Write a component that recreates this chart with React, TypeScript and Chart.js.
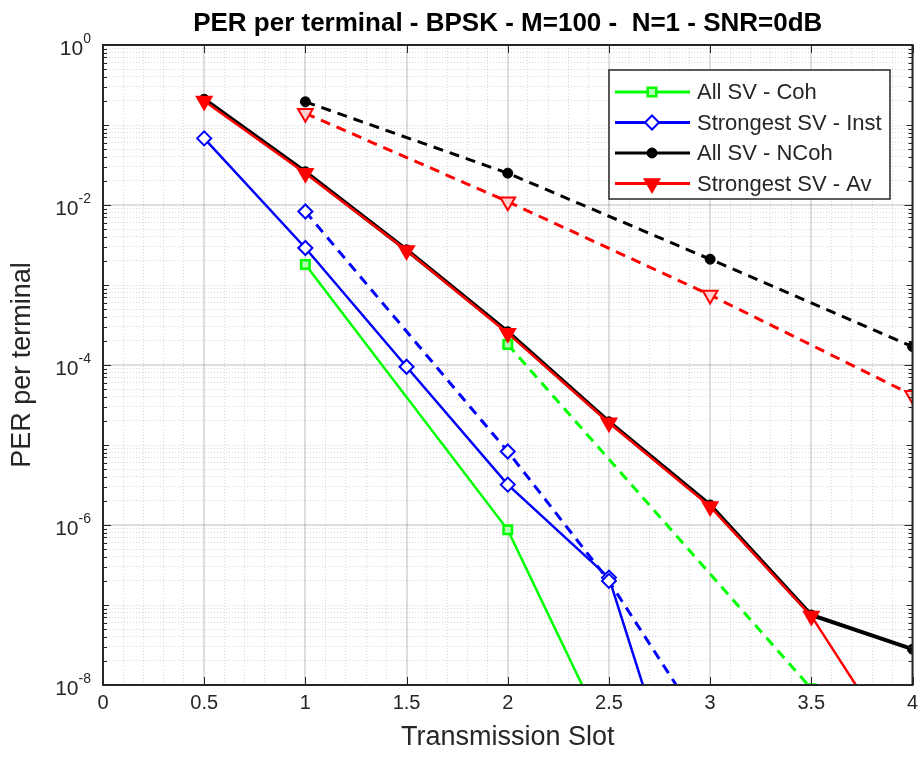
import React, { useEffect, useRef } from 'react';
import { Chart, registerables } from 'chart.js';
import { drawPoint } from 'chart.js/helpers';

Chart.register(...registerables);

// ---------- data ----------
const TITLE = 'PER per terminal - BPSK - M=100 -  N=1 - SNR=0dB';
const X_LABEL = 'Transmission Slot';
const Y_LABEL = 'PER per terminal';
const X_TICKS = [0, 0.5, 1, 1.5, 2, 2.5, 3, 3.5, 4];
const Y_TICK_EXPONENTS = [0, -2, -4, -6, -8];

const slots = [0.5, 1, 1.5, 2, 2.5, 3, 3.5, 4];

const cohX = [1, 2, 2.5];
const cohY = [1.8e-3, 8.7e-7, 2.0e-9];
const cohDashX = [2, 3.5];
const cohDashY = [1.8e-4, 9e-9];

const instX = [0.5, 1, 1.5, 2, 2.5, 3];
const instY = [0.068, 2.9e-3, 9.5e-5, 3.2e-6, 2.2e-7, 2.2e-11];
const instDashX = [1, 2, 2.5, 3];
const instDashY = [8.3e-3, 8.3e-6, 2.0e-7, 2.2e-9];

const ncohY = [0.21, 0.026, 2.75e-3, 2.6e-4, 1.95e-5, 1.78e-6, 7.5e-8, 2.8e-8];
const ncohDashX = [1, 2, 3, 4];
const ncohDashY = [0.195, 0.025, 2.1e-3, 1.7e-4];

const avY = [0.2, 0.025, 2.7e-3, 2.5e-4, 1.9e-5, 1.7e-6, 7.3e-8, 8e-10];
const avDashX = [1, 2, 3, 4];
const avDashY = [0.14, 0.011, 7.5e-4, 4.2e-5];

const SERIES_LABELS = ['All SV - Coh', 'Strongest SV - Inst', 'All SV - NCoh', 'Strongest SV - Av'];

const FONT = "'Liberation Sans', Arial, Helvetica, sans-serif";
const TEXT = '#262626';

const pts = (xs: number[], ys: number[]) => xs.map((x, i) => ({ x, y: ys[i] }));

const isXMajor = (v: number) => Math.abs(v * 2 - Math.round(v * 2)) < 1e-6;
const isYMajor = (v: number) => {
  const e = Math.log10(v);
  return Math.abs(e - Math.round(e)) < 1e-6 && Math.round(e) % 2 === 0;
};
const isDecade = (v: number) => {
  const e = Math.log10(v);
  return Math.abs(e - Math.round(e)) < 1e-6;
};

const frame = {
  id: 'matlabFrame',
  afterDatasetsDraw(chart: any) {
    const { ctx, chartArea: a, scales } = chart;
    ctx.save();
    ctx.strokeStyle = TEXT;
    ctx.lineWidth = 1;
    // x ticks (inward)
    X_TICKS.forEach((v) => {
      const px = Math.round(scales.x.getPixelForValue(v)) + 0.5;
      ctx.beginPath();
      ctx.moveTo(px, a.bottom);
      ctx.lineTo(px, a.bottom - 8);
      ctx.moveTo(px, a.top);
      ctx.lineTo(px, a.top + 8);
      ctx.stroke();
    });
    // y ticks (inward)
    scales.y.ticks.forEach((t: any) => {
      const py = Math.round(scales.y.getPixelForValue(t.value)) + 0.5;
      const len = isYMajor(t.value) ? 8 : isDecade(t.value) ? 6 : 4;
      ctx.beginPath();
      ctx.moveTo(a.left, py);
      ctx.lineTo(a.left + len, py);
      ctx.moveTo(a.right, py);
      ctx.lineTo(a.right - len, py);
      ctx.stroke();
    });
    ctx.lineWidth = 2;
    ctx.strokeRect(a.left, a.top, a.right - a.left, a.bottom - a.top);

    // x tick labels
    ctx.fillStyle = TEXT;
    ctx.font = `20px ${FONT}`;
    ctx.textAlign = 'center';
    ctx.textBaseline = 'top';
    X_TICKS.forEach((v) => {
      ctx.fillText(String(v), scales.x.getPixelForValue(v), a.bottom + 8);
    });

    // y tick labels 10^n
    ctx.textAlign = 'right';
    ctx.textBaseline = 'alphabetic';
    Y_TICK_EXPONENTS.forEach((e) => {
      const py = scales.y.getPixelForValue(Math.pow(10, e));
      const ex = String(e);
      ctx.font = `14px ${FONT}`;
      const ew = ctx.measureText(ex).width;
      const right = a.left - 12;
      ctx.fillText(ex, right, py - 2);
      ctx.font = `21px ${FONT}`;
      ctx.fillText('10', right - ew, py + 10);
    });
    ctx.restore();
  },
  afterDraw(chart: any) {
    const { ctx } = chart;
    const ds = chart.data.datasets.filter((d: any) => d.label);
    const bx = 609, by = 70, bw = 281, bh = 129;
    ctx.save();
    ctx.fillStyle = '#ffffff';
    ctx.fillRect(bx, by, bw, bh);
    ctx.strokeStyle = TEXT;
    ctx.lineWidth = 1.5;
    ctx.strokeRect(bx, by, bw, bh);
    ds.forEach((d: any, i: number) => {
      const y = by + 22 + i * 30.5;
      ctx.strokeStyle = d.borderColor;
      ctx.lineWidth = 3;
      ctx.setLineDash([]);
      ctx.beginPath();
      ctx.moveTo(bx + 6, y);
      ctx.lineTo(bx + 81, y);
      ctx.stroke();
      ctx.fillStyle = d.pointBackgroundColor;
      ctx.strokeStyle = d.pointBorderColor;
      ctx.lineWidth = d.pointBorderWidth;
      drawPoint(ctx, { pointStyle: d.pointStyle, rotation: d.pointRotation || 0, radius: d.pointRadius, borderWidth: d.pointBorderWidth }, bx + 43, y);
      ctx.fillStyle = TEXT;
      ctx.font = `22px ${FONT}`;
      ctx.textAlign = 'left';
      ctx.textBaseline = 'middle';
      ctx.fillText(d.label, bx + 88, y + 1);
    });
    ctx.restore();
  },
};

const App: React.FC = () => {
  const ref = useRef<HTMLCanvasElement>(null);

  useEffect(() => {
    document.body.style.margin = '0';
    const green = '#00ff00', blue = '#0000ff', black = '#000000', red = '#ff0000';
    const dash = [10, 7];
    const common = { fill: false, tension: 0, showLine: true };
    const chart = new Chart(ref.current as HTMLCanvasElement, {
      type: 'scatter',
      data: {
        datasets: [
          { ...common, label: SERIES_LABELS[0], data: pts(cohX, cohY), borderColor: green, borderWidth: 2.5, pointStyle: 'rect', pointRadius: 6, pointBorderWidth: 2.5, pointBorderColor: green, pointBackgroundColor: '#b0ffb0', order: 7 },
          { ...common, label: SERIES_LABELS[1], data: pts(instX, instY), borderColor: blue, borderWidth: 2.5, pointStyle: 'rectRot', pointRadius: 7, pointBorderWidth: 2, pointBorderColor: blue, pointBackgroundColor: '#ffffff', order: 5 },
          { ...common, label: SERIES_LABELS[2], data: pts(slots, ncohY), borderColor: black, borderWidth: 4, pointStyle: 'circle', pointRadius: 5, pointBorderWidth: 1, pointBorderColor: black, pointBackgroundColor: black, order: 3 },
          { ...common, label: SERIES_LABELS[3], data: pts(slots, avY), borderColor: red, borderWidth: 2.5, pointStyle: 'triangle', pointRotation: 180, pointRadius: 8.5, pointBorderWidth: 2, pointBorderColor: red, pointBackgroundColor: red, order: 1 },
          { ...common, label: '', data: pts(cohDashX, cohDashY), borderColor: green, borderWidth: 3, borderDash: dash, pointStyle: 'rect', pointRadius: 6, pointBorderWidth: 2.5, pointBorderColor: green, pointBackgroundColor: '#b0ffb0', order: 6 },
          { ...common, label: '', data: pts(instDashX, instDashY), borderColor: blue, borderWidth: 3, borderDash: dash, pointStyle: 'rectRot', pointRadius: 7, pointBorderWidth: 2, pointBorderColor: blue, pointBackgroundColor: '#ffffff', order: 4 },
          { ...common, label: '', data: pts(ncohDashX, ncohDashY), borderColor: black, borderWidth: 3, borderDash: dash, pointStyle: 'circle', pointRadius: 5, pointBorderWidth: 1, pointBorderColor: black, pointBackgroundColor: black, order: 2 },
          { ...common, label: '', data: pts(avDashX, avDashY), borderColor: red, borderWidth: 3, borderDash: dash, pointStyle: 'triangle', pointRotation: 180, pointRadius: 8.5, pointBorderWidth: 2, pointBorderColor: red, pointBackgroundColor: '#ffd0d0', order: 0 },
        ],
      },
      options: {
        animation: false,
        responsive: false,
        layout: { padding: { left: 0, right: 6, top: 0, bottom: 0 } },
        plugins: {
          legend: { display: false },
          tooltip: { enabled: false },
          title: {
            display: true,
            text: TITLE,
            fullSize: false,
            color: '#000000',
            font: { family: FONT, size: 26, weight: 'bold', lineHeight: 1.2 },
            padding: { top: 8, bottom: 5.8 },
          },
        },
        scales: {
          x: {
            type: 'linear',
            min: 0,
            max: 4,
            afterBuildTicks: (scale: any) => {
              const t = [];
              for (let i = 0; i <= 40; i++) t.push({ value: i / 10 });
              scale.ticks = t;
            },
            afterFit: (scale: any) => {
              scale.height = 79;
            },
            ticks: { display: false, autoSkip: false, maxRotation: 0 },
            grid: {
              drawTicks: false,
              color: (c: any) => (c.tick && isXMajor(c.tick.value) ? 'rgba(38,38,38,0.15)' : 'rgba(38,38,38,0.18)'),
              lineWidth: (c: any) => (c.tick && isXMajor(c.tick.value) ? 2 : 1),
            },
            border: {
              display: false,
              dash: (c: any) => (c.tick && isXMajor(c.tick.value) ? [] : [1, 2]),
            },
            title: {
              display: true,
              text: X_LABEL,
              color: TEXT,
              font: { family: FONT, size: 27, lineHeight: 1.2 },
              padding: { top: 0, bottom: 10 },
            },
          },
          y: {
            type: 'logarithmic',
            min: 1e-8,
            max: 1,
            afterBuildTicks: (scale: any) => {
              const t = [];
              for (let e = -8; e < 0; e++) for (let k = 1; k <= 9; k++) t.push({ value: k * Math.pow(10, e) });
              t.push({ value: 1 });
              scale.ticks = t;
            },
            afterFit: (scale: any) => { scale.width = 103; },
            ticks: { display: false, autoSkip: false },
            grid: {
              drawTicks: false,
              color: (c: any) => (c.tick && isYMajor(c.tick.value) ? 'rgba(38,38,38,0.15)' : 'rgba(38,38,38,0.18)'),
              lineWidth: (c: any) => (c.tick && isYMajor(c.tick.value) ? 2 : 1),
            },
            border: {
              display: false,
              dash: (c: any) => (c.tick && isYMajor(c.tick.value) ? [] : [1, 2]),
            },
            title: {
              display: true,
              text: Y_LABEL,
              color: TEXT,
              font: { family: FONT, size: 27, lineHeight: 1.2 },
              padding: { top: 6, bottom: 0 },
            },
          },
        },
      },
      plugins: [frame],
    } as any);
    return () => chart.destroy();
  }, []);

  return (
    <div style={{ width: 923, height: 764, background: '#ffffff' }}>
      <canvas ref={ref} width={923} height={764} style={{ display: 'block', width: 923, height: 764 }} />
    </div>
  );
};

export default App;
